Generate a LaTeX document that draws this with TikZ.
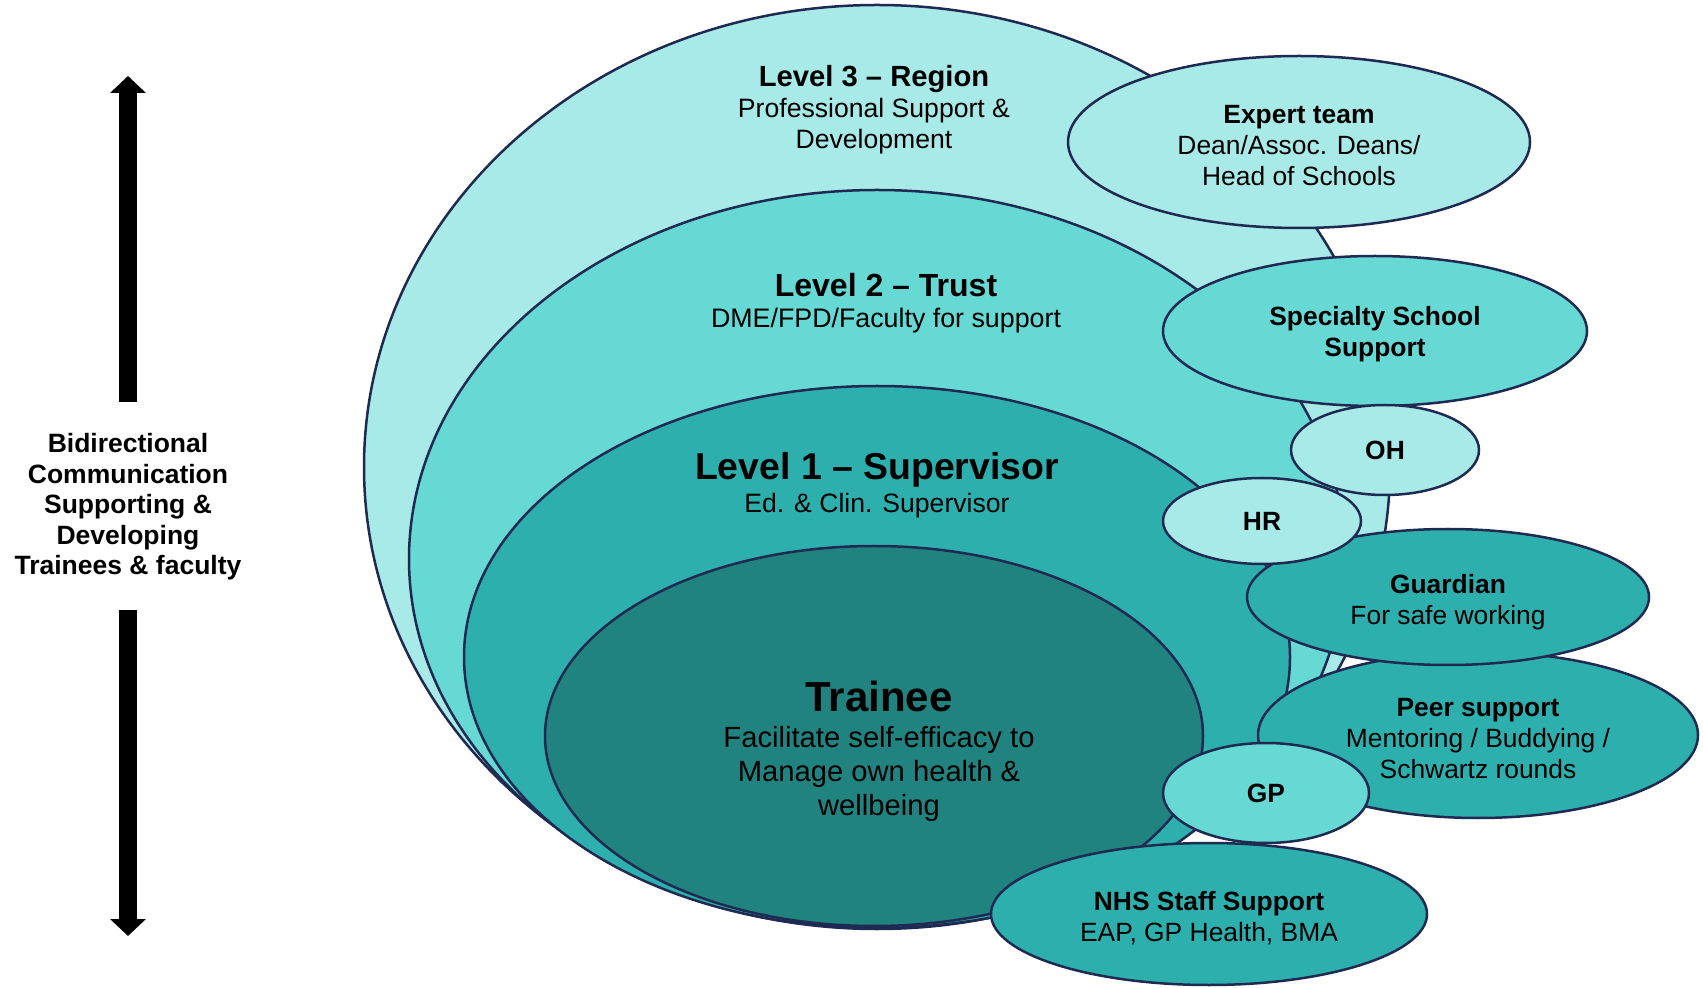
\documentclass[tikz,border=0pt]{standalone}
\usepackage{fontspec}
\setmainfont{Liberation Sans}
\usetikzlibrary{shapes, arrows.meta, positioning}

\definecolor{lvlthree}{HTML}{A8EAE7}
\definecolor{lvltwo}{HTML}{66D9D5}
\definecolor{lvlone}{HTML}{2DB0AD}
\definecolor{core}{HTML}{21837F}
\definecolor{rim}{HTML}{1F2A52}

\newcommand\fsz[2]{\fontsize{#1}{#2}\selectfont}
\newcommand\lowstrut[1]{\rule{0pt}{#1}}

\tikzset{
  oval/.style={ellipse, draw=rim, line width=1.25pt, inner sep=0pt, align=center},
  small/.style={font=\fsz{13.2}{15.5}},
  bigarrow/.style={->, line width=8.7pt, black}
}

\begin{document}
\begin{tikzpicture}[x=0.5pt, y=-0.5pt, >={Triangle[length=8.5pt, width=17.5pt]}]
    \useasboundingbox (0,0) rectangle (1703,988);

    % nested levels
    \node[oval, fill=lvlthree, minimum width=513pt, minimum height=462pt] at (877,467) (region) {};
    \node[oval, fill=lvltwo, minimum width=468pt, minimum height=369pt] at (877,559) (trust) {};
    \node[oval, fill=lvlone, minimum width=413pt, minimum height=271pt] at (877,657) (supervisor) {};
    \node[oval, fill=core, minimum width=329pt, minimum height=190pt] at (874,736) (trainee) {};

    \node[font=\fsz{14.6}{17}\bfseries] at (874,79) (regiontitle) {Level 3 – Region};
    \node[font=\fsz{13.3}{15.75}, align=center] at (874,126) (regiontext) {Professional Support \&\\Development};
    \node[font=\fsz{16}{18}\bfseries] at (886,285) (trusttitle) {Level 2 – Trust};
    \node[font=\fsz{13.4}{15.75}] at (886,321) (trusttext) {DME/FPD/Faculty for support};
    \node[font=\fsz{18.7}{21}\bfseries] at (877,470) (suptitle) {Level 1 – Supervisor};
    \node[font=\fsz{13.3}{15.75}] at (877,506) (suptext) {Ed. \& Clin. Supervisor};
    \node[font=\fsz{21}{24}\bfseries] at (879,696) (traineetitle) {Trainee};
    \node[font=\fsz{14.6}{17}, align=center] at (879,774) (traineetext) {Facilitate self-efficacy to\\Manage own health \&\\wellbeing};

    % support around the levels
    \node[oval, small, fill=lvlthree, minimum width=231pt, minimum height=86pt] at (1299,142) (expert) {\lowstrut{13pt}\textbf{Expert team}\\Dean/Assoc. Deans/\\Head of Schools};
    \node[oval, small, fill=lvltwo, minimum width=212pt, minimum height=75pt] at (1375,331) (specialty) {\lowstrut{13pt}\textbf{Specialty School}\\\textbf{Support}};
    \node[oval, small, fill=lvlthree, minimum width=94pt, minimum height=45pt] at (1385,450) (oh) {\textbf{OH}};
    \node[oval, small, fill=lvlone, minimum width=220pt, minimum height=83pt] at (1478,735) (peer) {\lowstrut{13pt}\textbf{Peer support}\\Mentoring / Buddying /\\Schwartz rounds};
    \node[oval, small, fill=lvlone, minimum width=201pt, minimum height=68pt] at (1448,597) (guardian) {\lowstrut{15pt}\textbf{Guardian}\\For safe working};
    \node[oval, small, fill=lvlthree, minimum width=99pt, minimum height=43pt] at (1262,521) (hr) {\textbf{HR}};
    \node[oval, small, fill=lvlone, minimum width=218pt, minimum height=71pt] at (1209,914) (nhs) {\lowstrut{13.5pt}\textbf{NHS Staff Support}\\EAP, GP Health, BMA};
    \node[oval, small, fill=lvltwo, minimum width=103pt, minimum height=50pt] at (1266,793) (gp) {\textbf{GP}};

    % two-way arrow
    \node[font=\fsz{13.25}{15.25}\bfseries, align=center] at (128,507) (bidir) {Bidirectional\\Communication\\Supporting \&\\Developing\\Trainees \& faculty};
    \coordinate (uptip) at (128,76);
    \coordinate (upbase) at (128,402);
    \coordinate (downtip) at (128,936);
    \coordinate (downbase) at (128,610);
    \draw[bigarrow] (upbase) -- (uptip);
    \draw[bigarrow] (downbase) -- (downtip);
\end{tikzpicture}
\end{document}
